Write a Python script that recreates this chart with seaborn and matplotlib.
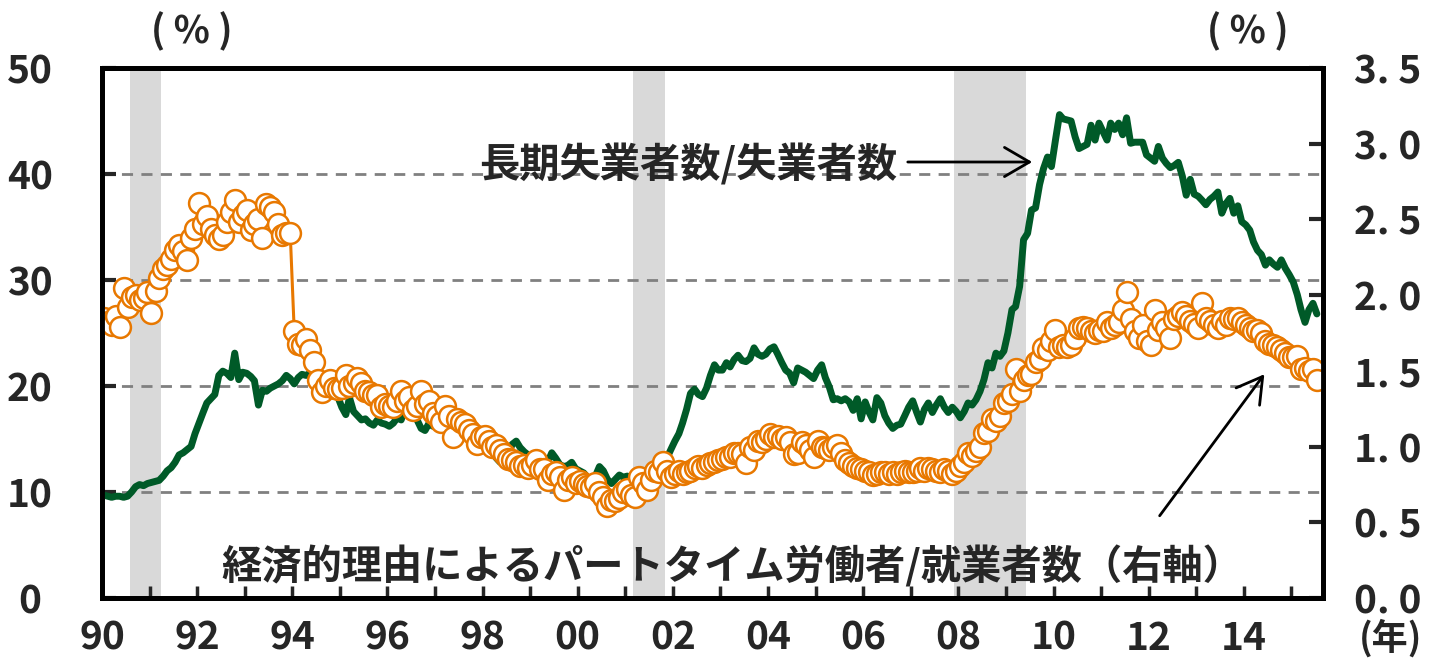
import numpy as np
import pandas as pd
import matplotlib
matplotlib.use("Agg")
import matplotlib.pyplot as plt
import seaborn as sns

# long-term unemployed (27 weeks+) / unemployed, %, monthly from Jan 1990 (left axis)
long_term_share = [
    9.7, 9.6, 9.5, 9.6, 9.6, 9.5, 9.6, 10.0, 10.5, 10.7, 10.6, 10.8,        # 1990
    10.9, 11.0, 11.1, 11.5, 12.0, 12.3, 12.8, 13.5, 13.7, 14.0, 14.3, 15.5,  # 1991
    16.5, 17.5, 18.4, 18.8, 19.2, 21.0, 21.4, 21.2, 20.8, 23.1, 20.6, 21.3,  # 1992
    21.2, 20.9, 20.5, 18.2, 19.6, 19.5, 19.8, 20.0, 20.2, 20.5, 21.0, 20.7,  # 1993
    20.2, 20.8, 21.1, 21.0, 21.2, 21.3, 20.8, 20.3, 19.8, 19.5, 19.2, 19.0,  # 1994
    18.0, 17.3, 18.9, 17.6, 17.2, 16.8, 16.9, 16.5, 16.3, 16.8, 16.5, 16.4,  # 1995
    16.2, 16.5, 17.0, 16.8, 18.0, 19.0, 18.0, 16.8, 16.0, 15.8, 16.5, 16.2,  # 1996
    16.5, 16.0, 15.8, 16.2, 15.5, 15.8, 15.6, 15.4, 15.0, 15.3, 15.0, 14.8,  # 1997
    14.3, 14.0, 13.8, 13.2, 12.8, 13.0, 13.5, 14.5, 14.8, 14.2, 13.8, 13.5,  # 1998
    13.0, 12.8, 12.5, 12.6, 12.8, 13.7, 13.2, 12.6, 12.4, 12.5, 12.8, 12.2,  # 1999
    12.0, 11.8, 11.4, 11.1, 11.5, 12.4, 12.0, 11.2, 10.8, 11.2, 11.6, 11.4,  # 2000
    11.5, 11.3, 10.8, 10.6, 11.0, 11.4, 11.8, 12.4, 12.0, 12.3, 13.2, 14.0,  # 2001
    14.8, 15.5, 16.5, 17.8, 19.3, 19.7, 19.2, 19.0, 19.8, 21.0, 22.0, 21.5,  # 2002
    21.5, 22.2, 21.8, 22.5, 22.9, 22.4, 22.3, 22.6, 23.6, 23.0, 22.8, 23.0,  # 2003
    23.5, 23.7, 23.0, 22.2, 21.5, 21.2, 20.3, 21.7, 21.5, 21.3, 21.0, 20.7,  # 2004
    21.5, 22.0, 20.8, 19.9, 18.7, 18.8, 18.6, 18.8, 18.5, 17.7, 18.8, 16.9,  # 2005
    18.5, 17.5, 16.8, 18.9, 18.4, 17.2, 16.5, 16.0, 16.3, 16.4, 17.2, 18.0,  # 2006
    18.6, 17.5, 16.6, 17.8, 18.4, 17.5, 18.2, 18.8, 18.0, 17.5, 18.0, 17.6,  # 2007
    17.0, 17.6, 18.4, 18.2, 18.7, 19.5, 20.6, 22.2, 21.7, 23.1, 22.8, 23.3,  # 2008
    25.0, 27.2, 27.5, 29.4, 33.8, 34.4, 36.6, 36.8, 39.0, 40.5, 41.6, 40.7,  # 2009
    43.2, 45.6, 45.2, 45.1, 45.0, 43.5, 42.4, 42.6, 42.8, 44.6, 43.2, 44.8,  # 2010
    44.0, 43.2, 44.8, 44.2, 44.8, 43.7, 45.3, 42.9, 43.0, 43.0, 43.0, 41.8,  # 2011
    41.5, 41.2, 42.6, 41.5, 41.0, 40.6, 40.8, 41.1, 39.8, 38.0, 39.5, 38.1,  # 2012
    37.9, 37.5, 37.1, 37.6, 37.9, 38.3, 36.3, 37.2, 37.7, 36.3, 37.0, 35.5,  # 2013
    35.2, 34.7, 33.6, 32.8, 32.4, 31.4, 31.9, 31.5, 31.2, 31.9, 31.1, 30.5,  # 2014
    29.8, 28.6, 27.2, 26.0, 27.2, 27.8, 26.8,                                # 2015
]

# part-time for economic reasons / employed, %, monthly from Jan 1990 (right axis)
econ_parttime_share = [
    1.85, 1.82, 1.80, 1.86, 1.79, 2.05, 1.92, 1.99, 2.00, 1.97, 1.98, 2.02,  # 1990
    1.88, 2.03, 2.11, 2.17, 2.20, 2.24, 2.30, 2.33, 2.29, 2.23, 2.38, 2.44,  # 1991
    2.61, 2.47, 2.52, 2.44, 2.40, 2.37, 2.40, 2.48, 2.55, 2.63, 2.48, 2.53,  # 1992
    2.56, 2.43, 2.47, 2.50, 2.38, 2.60, 2.58, 2.55, 2.47, 2.40, 2.41, 2.41,  # 1993
    1.76, 1.68, 1.67, 1.71, 1.64, 1.56, 1.44, 1.36, 1.40, 1.44, 1.39, 1.38,  # 1994
    1.39, 1.47, 1.40, 1.42, 1.45, 1.42, 1.37, 1.36, 1.34, 1.34, 1.26, 1.28,  # 1995
    1.27, 1.26, 1.30, 1.37, 1.30, 1.33, 1.24, 1.27, 1.37, 1.28, 1.30, 1.22,  # 1996
    1.20, 1.16, 1.27, 1.20, 1.06, 1.18, 1.16, 1.15, 1.11, 1.08, 1.02, 1.06,  # 1997
    1.07, 1.04, 1.00, 1.01, 0.98, 0.95, 0.92, 0.91, 0.90, 0.87, 0.88, 0.86,  # 1998
    0.88, 0.91, 0.85, 0.85, 0.78, 0.82, 0.83, 0.80, 0.71, 0.78, 0.80, 0.76,  # 1999
    0.77, 0.75, 0.74, 0.73, 0.76, 0.70, 0.67, 0.61, 0.65, 0.64, 0.66, 0.70,  # 2000
    0.72, 0.68, 0.67, 0.80, 0.76, 0.71, 0.78, 0.84, 0.83, 0.90, 0.84, 0.80,  # 2001
    0.82, 0.84, 0.82, 0.83, 0.84, 0.86, 0.87, 0.86, 0.88, 0.89, 0.90, 0.91,  # 2002
    0.92, 0.93, 0.93, 0.96, 0.96, 0.95, 0.89, 1.00, 0.98, 1.04, 1.03, 1.05,  # 2003
    1.08, 1.06, 1.07, 1.05, 1.06, 1.03, 0.95, 0.96, 1.03, 1.01, 0.98, 0.93,  # 2004
    1.04, 1.00, 0.99, 0.98, 1.00, 1.01, 0.96, 0.91, 0.89, 0.87, 0.86, 0.85,  # 2005
    0.84, 0.83, 0.81, 0.82, 0.83, 0.83, 0.82, 0.83, 0.82, 0.83, 0.84, 0.83,  # 2006
    0.83, 0.84, 0.86, 0.84, 0.86, 0.85, 0.84, 0.83, 0.85, 0.84, 0.82, 0.84,  # 2007
    0.87, 0.90, 0.96, 0.94, 0.97, 1.00, 1.09, 1.10, 1.18, 1.17, 1.20, 1.29,  # 2008
    1.30, 1.35, 1.51, 1.37, 1.44, 1.47, 1.48, 1.56, 1.58, 1.65, 1.64, 1.70,  # 2009
    1.77, 1.66, 1.67, 1.66, 1.67, 1.72, 1.78, 1.79, 1.78, 1.76, 1.75, 1.77,  # 2010
    1.76, 1.82, 1.78, 1.80, 1.82, 1.90, 2.02, 1.84, 1.76, 1.72, 1.80, 1.70,  # 2011
    1.67, 1.90, 1.77, 1.82, 1.78, 1.72, 1.84, 1.86, 1.89, 1.86, 1.83, 1.81,  # 2012
    1.78, 1.95, 1.85, 1.83, 1.80, 1.78, 1.83, 1.80, 1.85, 1.84, 1.85, 1.82,  # 2013
    1.80, 1.78, 1.76, 1.77, 1.75, 1.70, 1.68, 1.67, 1.66, 1.64, 1.62, 1.59,  # 2014
    1.59, 1.60, 1.51, 1.52, 1.50, 1.51, 1.44,                                # 2015
]

recession_starts = ["1990-08-01", "2001-03-01", "2007-12-01"]
recession_ends = ["1991-04-01", "2001-11-01", "2009-06-01"]

years = list(range(1990, 2016))
year_labels = [f"{y % 100:02d}" if y % 2 == 0 else "" for y in years]
left_ticks = [0, 10, 20, 30, 40, 50]
right_ticks = [0, 0.5, 1.0, 1.5, 2.0, 2.5, 3.0, 3.5]
right_labels = ["0. 0", "0. 5", "1. 0", "1. 5", "2. 0", "2. 5", "3. 0", "3. 5"]

green = "#005a28"
orange = "#e87800"

months = pd.date_range("1990-01-01", periods=len(long_term_share), freq="MS") + pd.Timedelta(days=15)

sns.set_theme(style="white")
plt.rcParams["font.family"] = ["Liberation Sans Narrow", "Noto Sans CJK JP", "DejaVu Sans"]
plt.rcParams["font.weight"] = "bold"

W, H = 1431, 664
fig = plt.figure(figsize=(W / 100, H / 100), dpi=100)
ax = fig.add_axes([102 / W, 1 - 598 / H, (1323 - 102) / W, (598 - 68) / H])
ax2 = ax.twinx()

for s, e in zip(recession_starts, recession_ends):
    ax.axvspan(pd.Timestamp(s), pd.Timestamp(e), color="#d9d9d9", lw=0, zorder=0)

ax.set_ylim(0, 50)
ax.set_yticks(left_ticks)
ax.yaxis.grid(True, color="#808080", linestyle=(0, (4, 3)), linewidth=2)
ax.set_axisbelow(True)

sns.lineplot(x=months, y=long_term_share, ax=ax, color=green, linewidth=5, zorder=3)
sns.lineplot(x=months, y=econ_parttime_share, ax=ax2, color=orange, linewidth=2.2,
             marker="o", markersize=15, markerfacecolor="white",
             markeredgecolor=orange, markeredgewidth=1.8)

ax.set_xlim(pd.Timestamp("1990-01-01"), pd.Timestamp("2015-09-01"))
ax.set_xticks([pd.Timestamp(f"{y}-01-01") for y in years])
ax.set_xticklabels(year_labels)
ax2.set_ylim(0, 3.5)
ax2.set_yticks(right_ticks)
ax2.set_yticklabels(right_labels)
ax.set_xlabel("")
ax.set_ylabel("")
ax2.set_ylabel("")

ax.tick_params(axis="x", direction="in", length=9, width=2.5, pad=15, labelsize=28, bottom=True)
ax.tick_params(axis="y", direction="in", length=10, width=3, pad=52, labelsize=28, left=True, right=False)
for lab in ax.get_yticklabels():
    lab.set_horizontalalignment("center")
ax2.tick_params(axis="y", direction="in", length=10, width=3, pad=22, labelsize=28, right=True)
for a in (ax, ax2):
    for sp in a.spines.values():
        sp.set_color("black")
        sp.set_linewidth(3.5)

cjk = ["Noto Sans CJK JP", "DejaVu Sans"]
fig.text(192 / W, 1 - 31 / H, "( % )", fontsize=27, weight="bold", ha="center", va="center")
fig.text(1248 / W, 1 - 31 / H, "( % )", fontsize=27, weight="bold", ha="center", va="center")
fig.text(1391 / W, 1 - 638 / H, "(年)", fontsize=26, weight="bold", ha="center", va="center")

fig.text(688 / W, 1 - 165 / H, "長期失業者数/失業者数", fontsize=29, family=cjk, weight="bold",
         ha="center", va="center")
fig.text(732 / W, 1 - 567 / H, "経済的理由によるパートタイム労働者/就業者数（右軸）", fontsize=29,
         family=cjk, weight="bold", ha="center", va="center")

arrow = dict(arrowstyle="->,head_length=0.6,head_width=0.35", lw=2, color="black", mutation_scale=30)
ax2.annotate("", xy=(1035 / W, 1 - 162 / H), xytext=(905 / W, 1 - 162 / H),
             xycoords="figure fraction", textcoords="figure fraction", arrowprops=arrow)
ax2.annotate("", xy=(1266 / W, 1 - 372 / H), xytext=(1158 / W, 1 - 518 / H),
             xycoords="figure fraction", textcoords="figure fraction", arrowprops=arrow)

fig.savefig("out.png", dpi=100)
